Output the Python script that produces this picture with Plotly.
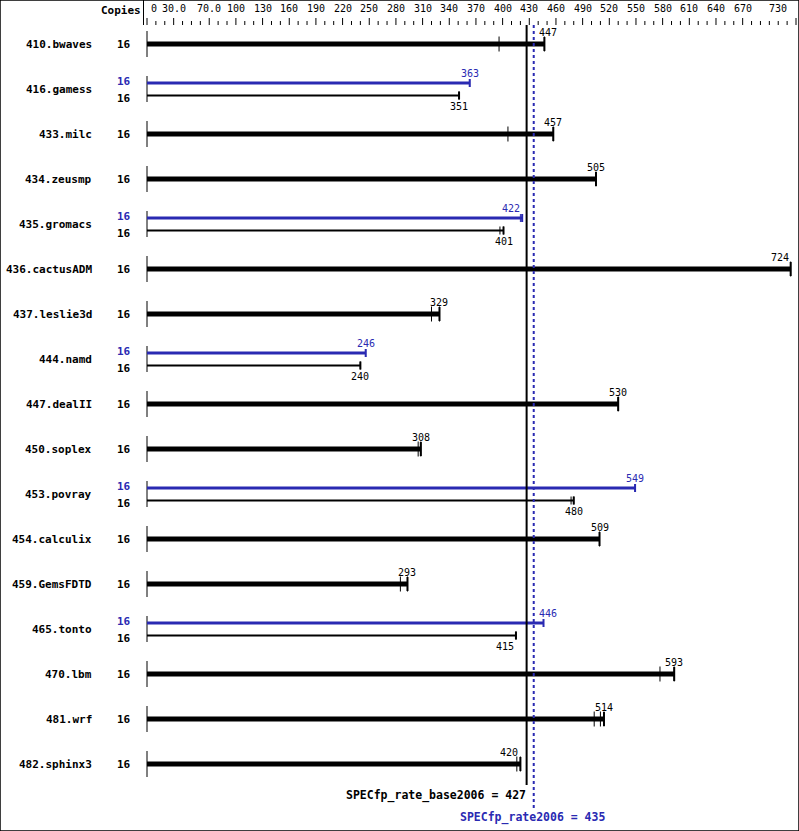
import plotly.graph_objects as go

# ---------------- data ----------------
benchmarks = ["410.bwaves", "416.gamess", "433.milc", "434.zeusmp", "435.gromacs",
              "436.cactusADM", "437.leslie3d", "444.namd", "447.dealII", "450.soplex",
              "453.povray", "454.calculix", "459.GemsFDTD", "465.tonto", "470.lbm",
              "481.wrf", "482.sphinx3"]
copies_base = [16] * 17
copies_peak = [None, 16, None, None, 16, None, None, 16, None, None, 16, None, None, 16, None, None, None]
base_median = [447, 351, 457, 505, 401, 724, 329, 240, 530, 308, 480, 509, 293, 415, 593, 514, 420]
peak_median = [None, 363, None, None, 422, None, None, 246, None, None, 549, None, None, 446, None, None, None]
base_runs = [[396, 447], [351], [406, 457], [505], [397, 401], [724], [320, 329], [240],
             [530], [305, 308], [477, 480], [509], [285, 293], [415], [577, 593],
             [503, 510, 514], [416, 420]]
peak_runs = [None, [363], None, None, [420, 422], None, None, [246], None, None, [549],
             None, None, [446], None, None, None]
base_score = 427
peak_score = 435
tick_vals = [0, 30, 70, 100, 130, 160, 190, 220, 250, 280, 310, 340, 370, 400, 430,
             460, 490, 520, 550, 580, 610, 640, 670, 730]
tick_text = ["0", "30.0", "70.0", "100", "130", "160", "190", "220", "250", "280", "310",
             "340", "370", "400", "430", "460", "490", "520", "550", "580", "610", "640",
             "670", "730"]
minor_step = 10

# ---------------- layout geometry ----------------
W, H = 799, 831
X0PX = 147          # pixel of value 0
K = 649 / 730       # pixels per unit
ROW0PX = 44         # pixel of first row centre
ROWPX = 45          # pixels per row


def px_x(p):
    return (p - X0PX) / K


def px_y(p):
    return (p - ROW0PX) / ROWPX


def dy(p):
    return p / ROWPX


def dx(p):
    return p / K


BLUE = "#2a2ab2"
BLACK = "#000000"
MONO = "DejaVu Sans Mono"

fig = go.Figure()


def add_segments(segs, color, width, dash="solid"):
    xs, ys = [], []
    for (x1, y1, x2, y2) in segs:
        xs += [x1, x2, None]
        ys += [y1, y2, None]
    fig.add_trace(go.Scatter(x=xs, y=ys, mode="lines", hoverinfo="skip",
                             line=dict(color=color, width=width, dash=dash),
                             showlegend=False))


annotations = []


def text(x, y, s, color=BLACK, size=10, bold=False, xanchor="center", yanchor="middle"):
    if bold:
        s = "<b>" + s + "</b>"
    annotations.append(dict(x=x, y=y, xref="x", yref="y", text=s, showarrow=False,
                            xanchor=xanchor, yanchor=yanchor,
                            font=dict(family=MONO, size=size, color=color)))


def value_label(m, y, color=BLACK):
    """Value label near the bar end, nudged away from the score lines / edge."""
    if m > px_x(W) - dx(12):
        text(m, y, str(m), color=color, xanchor="right")
    elif base_score - dx(12) < m <= base_score:
        text(m, y, str(m), color=color, xanchor="right")
    elif base_score < m < peak_score + dx(14):
        text(peak_score + dx(3), y, str(m), color=color, xanchor="left")
    else:
        text(m, y, str(m), color=color)


# header
text(px_x(121), px_y(10), "Copies", bold=True, size=11)
for v, t in zip(tick_vals, tick_text):
    if v == 0:
        text(v, px_y(8), t, xanchor="left", size=10)
        annotations[-1]["xshift"] = 2
    elif v == tick_vals[-1]:
        text(v, px_y(8), t, xanchor="right", size=10)
        annotations[-1]["xshift"] = -7
    else:
        text(v, px_y(8), t, size=10)

major = []
minor = []
v = 0
while v <= tick_vals[-1]:
    if v in tick_vals:
        major.append((v, px_y(18), v, px_y(25)))
    else:
        minor.append((v, px_y(21), v, px_y(25)))
    v += minor_step
add_segments(major + minor, BLACK, 1)

# rows
axis_segs = []
thick_bars, thin_base, thin_peak = [], [], []
end_thick, end_base, end_peak = [], [], []
run_base, run_peak = [], []
for i, name in enumerate(benchmarks):
    yc = i
    text(px_x(94), yc, name, bold=True, size=11, xanchor="right")
    axis_segs.append((0, yc - dy(13), 0, yc + dy(13)))
    if peak_median[i] is None:
        text(px_x(124), yc, str(copies_base[i]), bold=True, size=11)
        m = base_median[i]
        thick_bars.append((0, yc, m, yc))
        end_thick.append((m, yc - dy(7), m, yc + dy(7)))
        for r in base_runs[i]:
            run_base.append((r, yc - dy(7.5), r, yc + dy(7.5)))
        value_label(m, yc - dy(12))
    else:
        yp = yc - dy(6)
        yb = yc + dy(6.5)
        text(px_x(124), yp - dy(2), str(copies_peak[i]), bold=True, size=11, color=BLUE)
        text(px_x(124), yb + dy(3), str(copies_base[i]), bold=True, size=11)
        mp = peak_median[i]
        mb = base_median[i]
        thin_peak.append((0, yp, mp, yp))
        thin_base.append((0, yb, mb, yb))
        end_peak.append((mp, yp - dy(4), mp, yp + dy(4)))
        end_base.append((mb, yb - dy(4), mb, yb + dy(4)))
        for r in peak_runs[i]:
            run_peak.append((r, yp - dy(4), r, yp + dy(4)))
        for r in base_runs[i]:
            run_base.append((r, yb - dy(4), r, yb + dy(4)))
        value_label(mp, yp - dy(10), color=BLUE)
        value_label(mb, yb + dy(11))

add_segments(axis_segs, BLACK, 1)
add_segments(thick_bars, BLACK, 5)
add_segments(thin_base, BLACK, 2)
add_segments(thin_peak, BLUE, 3)
add_segments(end_thick, BLACK, 2)
add_segments(end_base, BLACK, 2)
add_segments(end_peak, BLUE, 2)
add_segments(run_base, BLACK, 1)
add_segments(run_peak, BLUE, 1)

# reference lines
add_segments([(base_score, px_y(25), base_score, px_y(785))], BLACK, 2)
add_segments([(peak_score, px_y(25), peak_score, px_y(808))], BLUE, 2, dash="dot")
text(base_score, px_y(795), "SPECfp_rate_base2006 = %d" % base_score, bold=True,
     size=11.5, xanchor="right")
annotations[-1]["xshift"] = 1
text(peak_score, px_y(817), "SPECfp_rate2006 = %d" % peak_score, bold=True,
     size=11.5, color=BLUE)
annotations[-1]["xshift"] = -1

shapes = [
    dict(type="rect", xref="paper", yref="paper", x0=0, y0=0, x1=1, y1=1,
         line=dict(color=BLACK, width=1.5)),
    dict(type="line", xref="x", yref="y", x0=px_x(143.5), x1=px_x(143.5),
         y0=px_y(0), y1=px_y(25), line=dict(color=BLACK, width=1)),
]

fig.update_layout(
    width=W, height=H,
    margin=dict(l=0, r=0, t=0, b=0),
    paper_bgcolor="white", plot_bgcolor="white",
    xaxis=dict(range=[px_x(0), px_x(W)], visible=False, fixedrange=True),
    yaxis=dict(range=[px_y(H), px_y(0)], visible=False, fixedrange=True),
    annotations=annotations,
    shapes=shapes,
    showlegend=False,
)

fig.write_html("out.html", config={"displayModeBar": False},
               post_script="document.body.style.margin='0';document.body.style.overflow='hidden';")
